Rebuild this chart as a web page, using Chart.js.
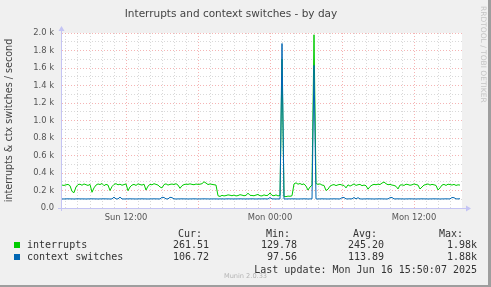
<!DOCTYPE html>
<html>
<head>
<meta charset="utf-8">
<title>Interrupts and context switches - by day</title>
<script src="https://cdn.jsdelivr.net/npm/chart.js@4.4.1/dist/chart.umd.min.js"></script>
<style>
  html, body { margin: 0; padding: 0; background: #f0f0f0; }
  canvas { display: block; }
</style>
</head>
<body>
<canvas id="dayChart" width="491" height="287"></canvas>
<script>
// interrupts / context switches, munin "by day" graph

// x is in hours relative to Mon 00:00, one sample every 10 minutes
const startHour = -17 - 1 / 3;   // Sun 06:40
const stepHours = 1 / 6;
const endHour = 16;

const tickHours = [-12, 0, 12];
const tickLabels = ['Sun 12:00', 'Mon 00:00', 'Mon 12:00'];

const interrupts = [
    262, 258, 265, 270, 255, 190, 175, 240, 268, 272,
    260, 275, 266, 258, 270, 180, 230, 262, 275, 268,
    280, 255, 270, 262, 200, 245, 270, 278, 265, 272,
    260, 268, 275, 198, 240, 262, 270, 258, 276, 268,
    262, 272, 205, 250, 270, 265, 278, 270, 262, 240,
    230, 268, 276, 262, 270, 274, 268, 278, 262, 225,
    255, 268, 272, 270, 276, 270, 266, 274, 270, 272,
    278, 300, 285, 268, 275, 270, 266, 262, 140, 132,
    145, 138, 142, 150, 146, 140, 148, 138, 142, 152,
    147, 140, 145, 170, 145, 143, 140, 148, 155, 140,
    138, 150, 142, 146, 172, 145, 140, 150, 138, 145,
    1700, 132, 130, 136, 134, 140, 275, 288, 272, 280,
    268, 276, 250, 205, 240, 262, 1980, 280, 270, 276,
    262, 258, 200, 215, 250, 262, 268, 256, 265, 270,
    262, 258, 230, 265, 250, 262, 275, 258, 266, 270,
    255, 262, 255, 215, 245, 262, 270, 266, 272, 268,
    285, 297, 278, 266, 270, 262, 258, 248, 218, 262,
    265, 258, 272, 268, 260, 265, 275, 268, 262, 217,
    240, 262, 268, 275, 262, 270, 265, 258, 206, 230,
    262, 270, 258, 272, 268, 262, 270, 258, 265, 262,
];

const ctxSwitches = [
    104, 103, 104, 105, 104, 104, 103, 104, 105, 104,
    104, 104, 103, 104, 104, 105, 104, 104, 103, 104,
    104, 105, 104, 104, 103, 104, 124, 104, 104, 124,
    104, 103, 104, 104, 105, 104, 104, 103, 104, 104,
    105, 104, 104, 103, 104, 104, 105, 104, 104, 103,
    122, 120, 104, 104, 122, 118, 104, 103, 104, 104,
    105, 104, 104, 103, 104, 104, 105, 104, 103, 104,
    104, 105, 104, 104, 103, 104, 104, 104, 103, 104,
    104, 103, 104, 105, 104, 104, 103, 104, 104, 105,
    104, 104, 103, 104, 104, 105, 104, 103, 104, 104,
    104, 105, 104, 103, 120, 104, 104, 103, 104, 104,
    1880, 104, 103, 104, 104, 105, 104, 104, 103, 104,
    104, 105, 104, 103, 104, 104, 1630, 104, 103, 104,
    105, 104, 104, 103, 104, 104, 105, 104, 104, 103,
    118, 120, 104, 104, 105, 104, 120, 104, 118, 104,
    103, 104, 104, 105, 104, 104, 103, 104, 104, 105,
    104, 104, 103, 104, 118, 120, 104, 104, 105, 104,
    104, 103, 104, 104, 105, 104, 104, 103, 104, 104,
    105, 104, 104, 103, 104, 104, 105, 104, 104, 103,
    104, 104, 105, 104, 104, 120, 118, 104, 104, 106,
];

const seriesNames = ['interrupts', 'context switches'];
const seriesColors = ['#00cc00', '#0066b3'];
const curValues = ['261.51', '106.72'];
const minValues = ['129.78', '97.56'];
const avgValues = ['245.20', '113.89'];
const maxValues = ['1.98k', '1.88k'];
const lastUpdate = 'Last update: Mon Jun 16 15:50:07 2025';

const toPoints = values => values.map((v, i) => ({x: startHour + i * stepHours, y: v}));

const gridHours = [];
for (let h = -17; h < endHour; h++) gridHours.push(h);

const majorGrid = 'rgba(238, 130, 130, 0.6)';
const minorGrid = 'rgba(185, 185, 185, 0.55)';
const axisColor = '#c4c4f4';

const munin = {
    id: 'munin',
    beforeDraw(chart) {
        const {ctx, chartArea: a, width, height} = chart;
        ctx.save();
        ctx.fillStyle = '#f0f0f0';
        ctx.fillRect(0, 0, width, height);
        ctx.fillStyle = '#ffffff';
        ctx.fillRect(a.left, a.top, a.right - a.left, a.bottom - a.top);
        ctx.fillStyle = '#9e9e9e';
        ctx.fillRect(width - 3, 0, 3, height);
        ctx.fillRect(0, height - 2, width, 2);
        ctx.restore();
    },
    afterDraw(chart) {
        const {ctx, chartArea: a} = chart;
        ctx.save();

        // axes with arrows
        ctx.strokeStyle = axisColor;
        ctx.fillStyle = axisColor;
        ctx.lineWidth = 1;
        ctx.beginPath();
        ctx.moveTo(a.left - 4, a.bottom + 0.5);
        ctx.lineTo(a.right + 5, a.bottom + 0.5);
        ctx.moveTo(a.left - 0.5, a.bottom + 3);
        ctx.lineTo(a.left - 0.5, a.top - 3);
        ctx.stroke();
        ctx.beginPath();
        ctx.moveTo(a.right + 9, a.bottom + 0.5);
        ctx.lineTo(a.right + 4, a.bottom - 2.5);
        ctx.lineTo(a.right + 4, a.bottom + 3.5);
        ctx.closePath();
        ctx.fill();
        ctx.beginPath();
        ctx.moveTo(a.left - 0.5, a.top - 7);
        ctx.lineTo(a.left - 3.5, a.top - 2);
        ctx.lineTo(a.left + 2.5, a.top - 2);
        ctx.closePath();
        ctx.fill();

        // watermarks
        ctx.fillStyle = '#c4c4c4';
        ctx.font = '7.5px "DejaVu Sans"';
        ctx.textBaseline = 'middle';
        ctx.textAlign = 'left';
        ctx.save();
        ctx.translate(483, 6);
        ctx.rotate(Math.PI / 2);
        ctx.fillText('RRDTOOL / TOBI OETIKER', 0, 0);
        ctx.restore();

        ctx.fillStyle = '#b4b4b4';
        ctx.font = '6.6px "DejaVu Sans"';
        ctx.textAlign = 'center';
        ctx.textBaseline = 'alphabetic';
        ctx.fillText('Munin 2.0.33', 245.5, 278);

        // legend
        ctx.font = '10px "DejaVu Sans Mono"';
        ctx.fillStyle = '#333';
        ctx.textAlign = 'right';
        ctx.fillText('Cur:', 202, 237);
        ctx.fillText('Min:', 290, 237);
        ctx.fillText('Avg:', 377, 237);
        ctx.fillText('Max:', 463, 237);
        seriesNames.forEach((name, i) => {
            const y = 248 + i * 12;
            ctx.fillStyle = seriesColors[i];
            ctx.fillRect(14, y - 6, 6, 6);
            ctx.fillStyle = '#333';
            ctx.textAlign = 'left';
            ctx.fillText(name, 27, y);
            ctx.textAlign = 'right';
            ctx.fillText(curValues[i], 209, y);
            ctx.fillText(minValues[i], 297, y);
            ctx.fillText(avgValues[i], 384, y);
            ctx.fillText(maxValues[i], 477, y);
        });
        ctx.fillText(lastUpdate, 477, 272.5);
        ctx.restore();
    }
};

new Chart(document.querySelector('#dayChart'), {
    type: 'line',
    data: {
        datasets: [
            {
                label: seriesNames[0],
                data: toPoints(interrupts),
                borderColor: seriesColors[0],
                borderWidth: 1,
                pointRadius: 0,
                tension: 0,
                order: 1,
            },
            {
                label: seriesNames[1],
                data: toPoints(ctxSwitches),
                borderColor: seriesColors[1],
                borderWidth: 1,
                pointRadius: 0,
                tension: 0,
                order: 0,
            }
        ]
    },
    options: {
        responsive: false,
        animation: false,
        layout: {padding: {top: 0, left: 0, right: 29, bottom: 59}},
        scales: {
            x: {
                type: 'linear',
                min: startHour,
                max: endHour,
                afterFit: s => { s.height = 20; },
                afterBuildTicks: s => { s.ticks = gridHours.map(h => ({value: h})); },
                ticks: {
                    autoSkip: false,
                    maxRotation: 0,
                    padding: 5,
                    color: '#555',
                    font: {family: 'DejaVu Sans', size: 8.4},
                    callback: v => tickHours.includes(v) ? tickLabels[tickHours.indexOf(v)] : '',
                },
                grid: {
                    drawTicks: false,
                    color: c => c.tick && c.tick.value % 6 === 0 ? majorGrid : minorGrid,
                },
                border: {display: false, dash: [1, 2]},
            },
            y: {
                min: 0,
                max: 2000,
                afterFit: s => { s.width = 62; },
                ticks: {
                    stepSize: 100,
                    autoSkip: false,
                    padding: 8,
                    color: '#555',
                    font: {family: 'DejaVu Sans', size: 8.4},
                    callback: v => v % 200 !== 0 ? '' : (v === 0 ? '0.0' : (v / 1000).toFixed(1) + ' k'),
                },
                grid: {
                    drawTicks: false,
                    color: c => c.tick && c.tick.value % 200 === 0 ? majorGrid : minorGrid,
                },
                border: {display: false, dash: [1, 2]},
                title: {
                    display: true,
                    text: 'interrupts & ctx switches / second',
                    color: '#444',
                    padding: {top: 4.2, bottom: 0},
                    font: {family: 'DejaVu Sans', size: 9.6},
                },
            }
        },
        plugins: {
            legend: {display: false},
            tooltip: {enabled: false},
            title: {
                display: true,
                text: 'Interrupts and context switches - by day',
                color: '#444',
                padding: {top: 8, bottom: 12.4},
                font: {family: 'DejaVu Sans', size: 10.5, weight: 'normal'},
            }
        }
    },
    plugins: [munin]
});
</script>
</body>
</html>
